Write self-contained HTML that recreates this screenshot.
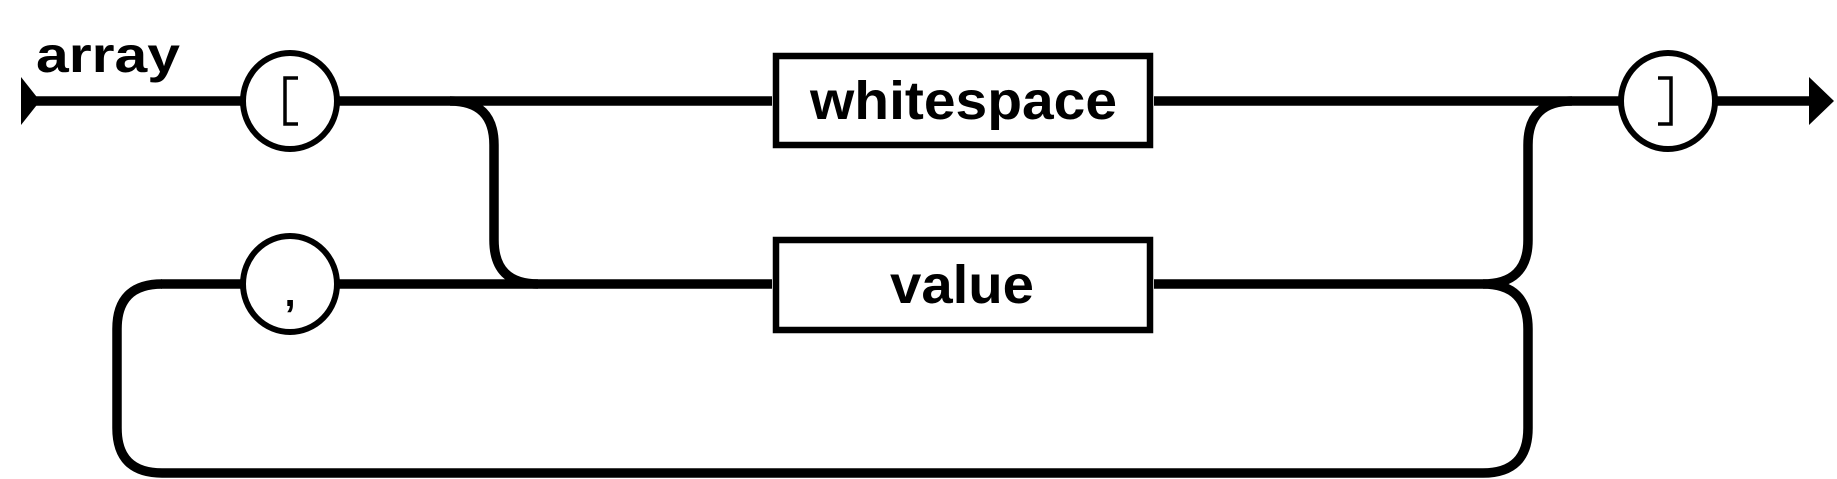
<!DOCTYPE html>
<html><head><meta charset="utf-8"><style>
html,body{margin:0;padding:0;background:#fff;}
svg{display:block;}
text{font-family:"Liberation Sans",sans-serif;font-weight:bold;fill:#000;}
</style></head><body>
<svg width="1837" height="479" viewBox="0 0 1837 479" xmlns="http://www.w3.org/2000/svg">
<g fill="none" stroke="#000" stroke-width="9.5">
  <line x1="30" y1="101" x2="242" y2="101"/>
  <line x1="338" y1="101" x2="772" y2="101"/>
  <line x1="1154" y1="101" x2="1620" y2="101"/>
  <line x1="1716" y1="101" x2="1815" y2="101"/>
  <line x1="161" y1="284" x2="242" y2="284"/>
  <line x1="338" y1="284" x2="772" y2="284"/>
  <line x1="1154" y1="284" x2="1483" y2="284"/>
  <path d="M450 101 Q494 101 494 145 L494 240 Q494 284 538 284"/>
  <path d="M1483 284 Q1528 284 1528 240 L1528 145 Q1528 101 1572 101"/>
  <path d="M1483 284 Q1528 284 1528 329 L1528 428 Q1528 473 1483 473 L162 473 Q117 473 117 428 L117 329 Q117 284 162 284"/>
</g>
<polygon points="21,77 40,101 21,125" fill="#000"/>
<polygon points="1809,77 1834,101 1809,125" fill="#000"/>
<g fill="#fff" stroke="#000" stroke-width="6">
  <ellipse cx="290" cy="101" rx="47" ry="48"/>
  <ellipse cx="1668" cy="101" rx="47" ry="48"/>
  <ellipse cx="290" cy="284" rx="47" ry="48"/>
</g>
<g fill="#fff" stroke="#000" stroke-width="6.5">
  <rect x="776" y="56" width="374" height="89"/>
  <rect x="776" y="240" width="374" height="90"/>
</g>
<path d="M298 78 L285 78 L285 124 L298 124" fill="none" stroke="#000" stroke-width="3.5"/>
<path d="M1658 78 L1671 78 L1671 124 L1658 124" fill="none" stroke="#000" stroke-width="3.5"/>
<text x="290" y="306" font-size="40" text-anchor="middle">,</text>
<text x="36" y="72" font-size="50" textLength="144" lengthAdjust="spacingAndGlyphs">array</text>
<text x="810" y="119" font-size="54" textLength="307" lengthAdjust="spacingAndGlyphs">whitespace</text>
<text x="890" y="303" font-size="54" textLength="144" lengthAdjust="spacingAndGlyphs">value</text>
</svg>
</body></html>
